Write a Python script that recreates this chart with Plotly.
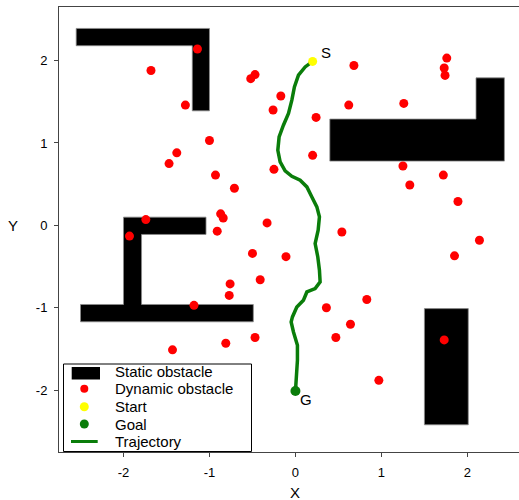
import plotly.graph_objects as go

# ---------------- data ----------------
# static obstacles as polygons (x, y vertex lists)
obs_top_left_x = [-2.55, -1.0, -1.0, -1.2, -1.2, -2.55]
obs_top_left_y = [2.39, 2.39, 1.39, 1.39, 2.18, 2.18]
obs_mid_left_x = [-2.0, -1.04, -1.04, -1.79, -1.79, -0.49, -0.49, -2.5, -2.5, -2.0]
obs_mid_left_y = [0.10, 0.10, -0.11, -0.11, -0.96, -0.96, -1.17, -1.17, -0.96, -0.96]
obs_right_x = [0.40, 2.10, 2.10, 2.43, 2.43, 0.40]
obs_right_y = [1.29, 1.29, 1.79, 1.79, 0.78, 0.78]
obs_bottom_right_x = [1.50, 2.01, 2.01, 1.50]
obs_bottom_right_y = [-1.01, -1.01, -2.42, -2.42]

dyn_x = [-1.14, -1.68, -1.28, -0.52, -0.47, -1.00, -1.38, -1.47, -0.93, -0.71,
         -0.87, -0.84, -0.91, -1.74, -1.93,
         0.68, 1.76, 1.73, 1.74, -0.17, -0.26, 0.24, 0.62, 1.26, 0.20,
         -0.25, 1.25, 1.72, 1.33, 1.89, -0.33, 0.54, 2.14,
         -0.50, -0.41, -0.76, -0.77, -1.18, -0.47, -0.81, -1.43,
         -0.11, 1.85, 0.83, 0.36, 0.64, 0.47, 1.73, 0.97]
dyn_y = [2.14, 1.88, 1.46, 1.78, 1.83, 1.03, 0.88, 0.75, 0.61, 0.45,
         0.14, 0.09, -0.07, 0.07, -0.13,
         1.94, 2.03, 1.91, 1.82, 1.57, 1.40, 1.31, 1.46, 1.48, 0.85,
         0.68, 0.72, 0.61, 0.49, 0.29, 0.03, -0.08, -0.18,
         -0.34, -0.66, -0.71, -0.85, -0.97, -1.36, -1.43, -1.51,
         -0.38, -0.37, -0.90, -1.00, -1.20, -1.36, -1.39, -1.88]

start = (0.20, 1.99)
goal = (0.0, -2.01)

traj_x = [0.20, 0.113, 0.035, -0.012, -0.042, -0.081, -0.140, -0.190, -0.205, -0.178,
          -0.120, -0.042, 0.055, 0.133, 0.191, 0.249, 0.279, 0.264, 0.229, 0.260,
          0.279, 0.287, 0.229, 0.133, 0.093, 0.016, -0.035, -0.050, -0.023, 0.023,
          0.023, 0.008, 0.0]
traj_y = [1.99, 1.923, 1.822, 1.680, 1.519, 1.357, 1.215, 1.073, 0.912, 0.770,
          0.661, 0.596, 0.548, 0.467, 0.345, 0.224, 0.103, -0.059, -0.220, -0.383,
          -0.544, -0.686, -0.766, -0.808, -0.908, -0.990, -1.111, -1.172, -1.293, -1.455,
          -1.637, -1.839, -2.01]

x_ticks = [-2, -1, 0, 1, 2]
y_ticks = [-2, -1, 0, 1, 2]
x_tick_labels = ["-2", "-1", "0", "1", "2"]
y_tick_labels = ["-2", "-1", "0", "1", "2"]
legend_labels = ["Static obstacle", "Dynamic obstacle", "Start", "Goal", "Trajectory"]

# ---------------- figure ----------------
FONT = "Liberation Sans, Arial, sans-serif"
W, H = 519, 500
ML, MR, MT, MB = 59, 0, 7, 48
PW, PH = W - ML - MR, H - MT - MB


def px_x(px):
    return (px - ML) / PW


def px_y(py):
    return (H - MB - py) / PH


obs_x, obs_y = [], []
for xs, ys in [(obs_top_left_x, obs_top_left_y), (obs_mid_left_x, obs_mid_left_y),
               (obs_right_x, obs_right_y), (obs_bottom_right_x, obs_bottom_right_y)]:
    obs_x += xs + [xs[0], None]
    obs_y += ys + [ys[0], None]

fig = go.Figure()
fig.add_trace(go.Scatter(x=obs_x, y=obs_y, mode="lines", fill="toself",
                         fillcolor="black", line=dict(color="rgb(140,140,140)", width=0.8),
                         name="Static obstacle", showlegend=False, hoverinfo="skip"))
fig.add_trace(go.Scatter(x=dyn_x, y=dyn_y, mode="markers",
                         marker=dict(color="#ff0000", size=9, line=dict(width=0)),
                         name="Dynamic obstacle", showlegend=False))
fig.add_trace(go.Scatter(x=traj_x, y=traj_y, mode="lines",
                         line=dict(color="#0a7d0a", width=3.5),
                         name="Trajectory", showlegend=False))
fig.add_trace(go.Scatter(x=[start[0]], y=[start[1]], mode="markers",
                         marker=dict(color="#ffff00", size=9),
                         name="Start", showlegend=False))
fig.add_trace(go.Scatter(x=[goal[0]], y=[goal[1]], mode="markers",
                         marker=dict(color="#0a7d0a", size=10),
                         name="Goal", showlegend=False))

annotations = [
    dict(x=start[0], y=start[1], xref="x", yref="y", text="S", showarrow=False,
         xshift=13, yshift=9, font=dict(family=FONT, size=15, color="black")),
    dict(x=goal[0], y=goal[1], xref="x", yref="y", text="G", showarrow=False,
         xshift=11, yshift=-8, font=dict(family=FONT, size=15, color="black")),
    dict(x=0, y=px_y(492.7), xref="x", yref="paper", text="X", showarrow=False,
         xanchor="center", yanchor="middle",
         font=dict(family=FONT, size=15, color="black")),
    dict(x=px_x(13.3), y=0, xref="paper", yref="y", text="Y", showarrow=False,
         xanchor="center", yanchor="middle",
         font=dict(family=FONT, size=15, color="black")),
]

# custom legend
shapes = [dict(type="rect", xref="paper", yref="paper", layer="above",
               x0=px_x(63.5), x1=px_x(251.5), y0=px_y(451.5), y1=px_y(364),
               line=dict(color="black", width=1), fillcolor="white")]
row_y = [371.7, 388.7, 406.7, 424.0, 441.0]
sym_cx = 84.3
shapes.append(dict(type="rect", xref="paper", yref="paper", layer="above",
                   x0=px_x(71.7), x1=px_x(100), y0=px_y(379.5), y1=px_y(367),
                   line=dict(width=0), fillcolor="black"))
for r, col, yy in [(4.0, "#ff0000", row_y[1]), (4.5, "#ffff00", row_y[2]), (4.5, "#0a7d0a", row_y[3])]:
    shapes.append(dict(type="circle", xref="paper", yref="paper", layer="above",
                       x0=px_x(sym_cx - r), x1=px_x(sym_cx + r),
                       y0=px_y(yy + r), y1=px_y(yy - r),
                       line=dict(width=0), fillcolor=col))
shapes.append(dict(type="line", xref="paper", yref="paper", layer="above",
                   x0=px_x(71), x1=px_x(97.7), y0=px_y(441.5), y1=px_y(441.5),
                   line=dict(color="#0a7d0a", width=3)))
for lab, yy in zip(legend_labels, row_y):
    annotations.append(dict(x=px_x(113), y=px_y(yy), xref="paper", yref="paper",
                            text=lab, showarrow=False, xanchor="left", yanchor="middle",
                            font=dict(family=FONT, size=15, color="black")))

axis_common = dict(showgrid=False, zeroline=False, showline=True, linecolor="#444444",
                   linewidth=1, ticks="outside", ticklen=4, tickcolor="#444444",
                   tickfont=dict(family=FONT, size=13, color="black"))

fig.update_layout(
    width=W, height=H, autosize=False,
    margin=dict(l=ML, r=MR, t=MT, b=MB, pad=0),
    plot_bgcolor="white", paper_bgcolor="white",
    showlegend=False,
    xaxis=dict(range=[-2.75, 2.60], tickvals=x_ticks, ticktext=x_tick_labels, mirror=True,
               ticklabelstandoff=4, **axis_common),
    yaxis=dict(range=[-2.75, 2.65], tickvals=y_ticks, ticktext=y_tick_labels, mirror=False,
               ticklabelstandoff=4, **axis_common),
    annotations=annotations,
    shapes=shapes,
    font=dict(family=FONT),
)

fig.write_html("out.html", config={"displayModeBar": False},
               post_script="document.body.style.margin='0px';document.body.style.overflow='hidden';")
